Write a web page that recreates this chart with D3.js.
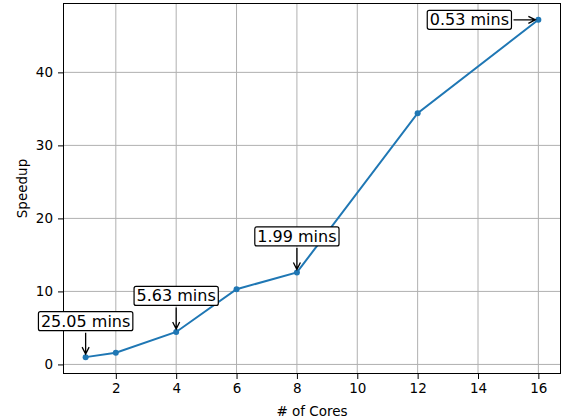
<!DOCTYPE html>
<html>
<head>
<meta charset="utf-8">
<script src="https://cdn.jsdelivr.net/npm/d3@7"></script>
<style>
  body { margin: 0; background: #fff; }
  svg { display: block; font-family: "DejaVu Sans", sans-serif; }
</style>
</head>
<body>
<svg width="565" height="419"></svg>
<script>
// data
const cores = [1, 2, 4, 6, 8, 12, 16];
const speedup = [1.0, 1.6, 4.45, 10.3, 12.6, 34.4, 47.2];
const noteCores = [1, 4, 8, 16];
const noteLabels = ["25.05 mins", "5.63 mins", "1.99 mins", "0.53 mins"];
const xTicks = [2, 4, 6, 8, 10, 12, 14, 16];
const yTicks = [0, 10, 20, 30, 40];

// text offsets (px) of each note from its point
const noteOffsets = [[0, -36], [0, -36], [0, -36], [-69, 0]];

const svg = d3.select("svg");
const width = +svg.attr("width");
const height = +svg.attr("height");
const margin = {top: 3, right: 4, bottom: 45, left: 63};

const x = d3.scaleLinear().domain([0.25, 16.75]).range([margin.left, width - margin.right]);
const y = d3.scaleLinear().domain([-1.31, 49.5]).range([height - margin.bottom, margin.top]);

const gridColor = "#b0b0b0";
const lineColor = "#1f77b4";

// grid
svg.append("g").selectAll("line")
    .data(xTicks).enter().append("line")
    .attr("x1", d => x(d)).attr("x2", d => x(d))
    .attr("y1", y.range()[0]).attr("y2", y.range()[1])
    .attr("stroke", gridColor).attr("stroke-width", 1);
svg.append("g").selectAll("line")
    .data(yTicks).enter().append("line")
    .attr("y1", d => y(d)).attr("y2", d => y(d))
    .attr("x1", x.range()[0]).attr("x2", x.range()[1])
    .attr("stroke", gridColor).attr("stroke-width", 1);

// axes
const xAxis = svg.append("g")
    .attr("transform", `translate(0,${y.range()[0]})`)
    .call(d3.axisBottom(x).tickValues(xTicks).tickSize(5).tickPadding(4).tickFormat(d3.format("d")));
const yAxis = svg.append("g")
    .attr("transform", `translate(${x.range()[0]},0)`)
    .call(d3.axisLeft(y).tickValues(yTicks).tickSize(5).tickPadding(5).tickFormat(d3.format("d")));
[xAxis, yAxis].forEach(a => {
    a.select(".domain").remove();
    a.selectAll("text").attr("font-size", "13.5px").attr("fill", "#000")
        .attr("font-family", "DejaVu Sans, sans-serif");
    a.selectAll("line").attr("stroke", "#000").attr("stroke-width", 1);
});

// frame
svg.append("rect")
    .attr("x", x.range()[0] + 0.5).attr("y", y.range()[1] + 0.5)
    .attr("width", x.range()[1] - x.range()[0] - 1)
    .attr("height", y.range()[0] - y.range()[1] - 1)
    .attr("fill", "none").attr("stroke", "#000").attr("stroke-width", 1);

// labels
svg.append("text")
    .attr("x", (x.range()[0] + x.range()[1]) / 2).attr("y", 416)
    .attr("text-anchor", "middle").attr("font-size", "13.5px")
    .text("# of Cores");
svg.append("text")
    .attr("transform", `translate(27,${(y.range()[0] + y.range()[1]) / 2}) rotate(-90)`)
    .attr("text-anchor", "middle").attr("font-size", "13.5px")
    .text("Speedup");

// line + markers
const pts = cores.map((c, i) => ({c, s: speedup[i]}));
svg.append("path")
    .datum(pts)
    .attr("fill", "none").attr("stroke", lineColor).attr("stroke-width", 2)
    .attr("d", d3.line().x(d => x(d.c)).y(d => y(d.s)));
svg.append("g").selectAll("circle")
    .data(pts).enter().append("circle")
    .attr("cx", d => x(d.c)).attr("cy", d => y(d.s)).attr("r", 3)
    .attr("fill", lineColor);

// annotations
const notes = noteCores.map((c, i) => {
    const s = speedup[cores.indexOf(c)];
    return {label: noteLabels[i], px: x(c), py: y(s),
        tx: x(c) + noteOffsets[i][0], ty: y(s) + noteOffsets[i][1]};
});

const ng = svg.append("g").selectAll("g").data(notes).enter().append("g");
ng.each(function(d) {
    const g = d3.select(this);
    const rect = g.append("rect");
    const t = g.append("text")
        .attr("x", d.tx).attr("y", d.ty)
        .attr("text-anchor", "middle").attr("dominant-baseline", "central")
        .attr("font-size", "16px").attr("fill", "#000")
        .text(d.label);
    const bb = t.node().getBBox();
    const pad = 2.5;
    const bx0 = d.tx - bb.width / 2 - pad, bx1 = d.tx + bb.width / 2 + pad;
    const by0 = d.ty - 9.5, by1 = d.ty + 9.5;
    rect.attr("x", bx0).attr("y", by0)
        .attr("width", bx1 - bx0).attr("height", by1 - by0)
        .attr("rx", 2).attr("ry", 2)
        .attr("fill", "#fff").attr("stroke", "#000").attr("stroke-width", 1.2);

    // arrow from box edge to point
    let sx, sy;
    const dx = d.px - d.tx, dy = d.py - d.ty;
    if (Math.abs(dx) > Math.abs(dy)) { sx = dx > 0 ? bx1 + 2 : bx0 - 2; sy = d.ty; }
    else { sx = d.tx; sy = dy > 0 ? by1 + 2 : by0 - 2; }
    const len = Math.hypot(d.px - sx, d.py - sy);
    const ux = (d.px - sx) / len, uy = (d.py - sy) / len;
    const ex = d.px - ux * 3, ey = d.py - uy * 3;
    const hl = 7, hw = 3.5;
    const bxh = ex - ux * hl, byh = ey - uy * hl;
    g.append("path")
        .attr("d", `M${sx},${sy}L${ex},${ey}` +
            `M${bxh - uy * hw},${byh + ux * hw}L${ex},${ey}L${bxh + uy * hw},${byh - ux * hw}`)
        .attr("fill", "none").attr("stroke", "#000").attr("stroke-width", 1.3);
});
</script>
</body>
</html>
